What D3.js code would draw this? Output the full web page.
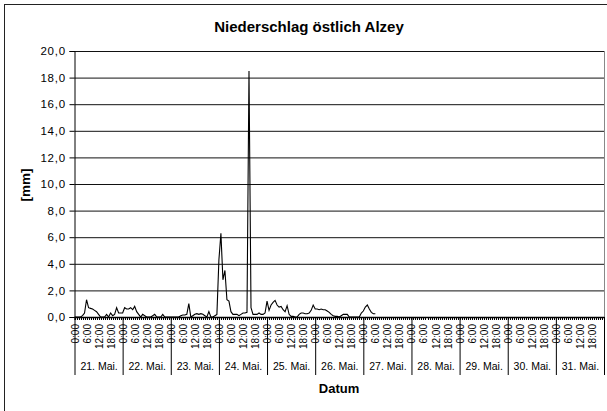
<!DOCTYPE html>
<html>
<head>
<meta charset="utf-8">
<script src="https://cdn.jsdelivr.net/npm/d3@7"></script>
<style>
  body { margin: 0; background: #fff; }
  svg { display: block; font-family: "Liberation Sans", Arial, sans-serif; }
</style>
</head>
<body>
<svg id="chart"></svg>
<script>
// categories
const days = ['21. Mai.', '22. Mai.', '23. Mai.', '24. Mai.', '25. Mai.', '26. Mai.',
  '27. Mai.', '28. Mai.', '29. Mai.', '30. Mai.', '31. Mai.'];
const hourLabels = ['0:00', '6:00', '12:00', '18:00'];
const yTicks = [0, 2, 4, 6, 8, 10, 12, 14, 16, 18, 20];

// hourly precipitation [mm]
const mai21 = [0, 0, 0, 0, 0.1, 0.3, 1.3, 0.7, 0.65, 0.6, 0.5, 0.4, 0.2, 0, 0, 0, 0.2, 0, 0.3, 0.1, 0.2, 0.7, 0.3, 0.3];
const mai22 = [0.3, 0.7, 0.6, 0.6, 0.7, 0.55, 0.8, 0.4, 0.2, 0, 0.2, 0.1, 0, 0, 0, 0.1, 0.2, 0, 0, 0, 0.2, 0, 0, 0];
const mai23 = [0, 0, 0, 0, 0, 0.1, 0.15, 0.15, 0.2, 1.0, 0, 0.1, 0.2, 0.25, 0.2, 0.25, 0.2, 0.1, 0, 0.4, 0, 0, 0.1, 0.2];
const mai24 = [4.3, 6.3, 2.8, 3.5, 1.3, 1.2, 0.4, 0.2, 0.2, 0.2, 0.1, 0.2, 0.3, 0.3, 0.35, 18.5, 0.7, 0.2, 0.2, 0.2, 0.3, 0.2, 0.2, 0.3];
const mai25 = [1.2, 0.5, 0.9, 1.1, 1.25, 0.9, 0.75, 0.8, 0.55, 0.4, 0.85, 0.2, 0.05, 0.05, 0, 0, 0.2, 0.3, 0.3, 0.25, 0.25, 0.3, 0.5, 0.9];
const mai26 = [0.6, 0.6, 0.55, 0.6, 0.55, 0.55, 0.45, 0.35, 0.2, 0.1, 0.05, 0.05, 0, 0.1, 0.2, 0.2, 0.2, 0, 0, 0, 0, 0, 0, 0.3];
const mai27 = [0.45, 0.75, 0.9, 0.6, 0.35, 0.25, 0.25];

const rain = [].concat(mai21, mai22, mai23, mai24, mai25, mai26, mai27);

const svgWidth = 607;
const svgHeight = 411;

const svg = d3.select('#chart')
  .attr('width', svgWidth)
  .attr('height', svgHeight);

const margin = {
  top: 51, right: 3, bottom: 94, left: 74.5,
};
const width = svgWidth - margin.left - margin.right;
const height = svgHeight - margin.top - margin.bottom;

// outer chart frame (cut off at right and bottom like the original)
svg.append('rect')
  .attr('x', 4.5)
  .attr('y', 4.5)
  .attr('width', 700)
  .attr('height', 500)
  .attr('fill', 'none')
  .attr('stroke', '#222');

svg.append('text')
  .attr('x', 309)
  .attr('y', 32)
  .attr('text-anchor', 'middle')
  .attr('font-size', 15)
  .attr('font-weight', 'bold')
  .text('Niederschlag östlich Alzey');

const g = svg.append('g').attr('transform', `translate(${margin.left}, ${margin.top})`);

const hours = days.length * 24;
const x = d3.scaleLinear().domain([0, hours]).range([0, width]);
const y = d3.scaleLinear().domain([0, 20]).range([height, 0]);

// gridlines
g.append('g')
  .call(d3.axisLeft(y).tickValues(yTicks).tickSize(-width).tickFormat(''))
  .call(s => s.select('.domain').remove())
  .selectAll('line')
  .attr('stroke', '#111');

// plot border right
g.append('line')
  .attr('x1', width + 0.5).attr('x2', width + 0.5)
  .attr('y1', 0).attr('y2', height)
  .attr('stroke', '#888');

// y-axis
const yAxis = g.append('g')
  .call(d3.axisLeft(y).tickValues(yTicks).tickSize(5).tickPadding(3.5)
    .tickFormat(d => d3.format('.1f')(d).replace('.', ',')));
yAxis.select('.domain').attr('stroke', '#000');
yAxis.selectAll('text')
  .attr('font-size', 11.5)
  .attr('letter-spacing', 0.8)
  .attr('fill', '#000')
  .attr('font-family', '"Liberation Sans", Arial, sans-serif');

// data line
g.append('path')
  .datum(rain)
  .attr('fill', 'none')
  .attr('stroke', '#000')
  .attr('stroke-width', 1.1)
  .attr('d', d3.line().x((d, i) => x(i)).y(d => y(d)));

// hourly minor ticks
g.append('g')
  .attr('transform', `translate(0,${height})`)
  .call(d3.axisBottom(x).tickValues(d3.range(0, hours + 1)).tickSize(3).tickFormat(''))
  .selectAll('line')
  .attr('stroke', '#000')
  .attr('shape-rendering', 'crispEdges');

// hour labels
const hourAxis = g.append('g')
  .attr('transform', `translate(0,${height})`)
  .call(d3.axisBottom(x).tickValues(d3.range(0, hours, 6)).tickSize(0)
    .tickFormat(h => hourLabels[(h % 24) / 6]));
hourAxis.select('.domain').attr('stroke', '#000').attr('stroke-width', 1.3);
hourAxis.selectAll('text')
  .attr('transform', 'rotate(-90)')
  .attr('text-anchor', 'end')
  .attr('x', -7)
  .attr('y', 0)
  .attr('dy', '0.35em')
  .attr('font-size', 10)
  .attr('fill', '#000')
  .attr('font-family', '"Liberation Sans", Arial, sans-serif');

// day separators
g.append('g')
  .attr('transform', `translate(0,${height})`)
  .call(d3.axisBottom(x).tickValues(d3.range(0, hours + 1, 24)).tickSize(58).tickFormat(''))
  .call(s => s.select('.domain').remove())
  .selectAll('line')
  .attr('stroke', '#000');

// day labels
const dayAxis = g.append('g')
  .attr('transform', `translate(0,${height})`)
  .call(d3.axisBottom(x).tickValues(days.map((d, i) => i * 24 + 12)).tickSize(0)
    .tickFormat((h, i) => days[i]));
dayAxis.select('.domain').remove();
dayAxis.selectAll('text')
  .attr('y', 53)
  .attr('dy', 0)
  .attr('font-size', 10.5)
  .attr('fill', '#000')
  .attr('font-family', '"Liberation Sans", Arial, sans-serif');

// axis titles
svg.append('text')
  .attr('transform', 'translate(30, 185) rotate(-90)')
  .attr('text-anchor', 'middle')
  .attr('font-size', 13.5)
  .attr('font-weight', 'bold')
  .text('[mm]');

svg.append('text')
  .attr('x', 339)
  .attr('y', 393)
  .attr('text-anchor', 'middle')
  .attr('font-size', 13)
  .attr('font-weight', 'bold')
  .text('Datum');
</script>
</body>
</html>
